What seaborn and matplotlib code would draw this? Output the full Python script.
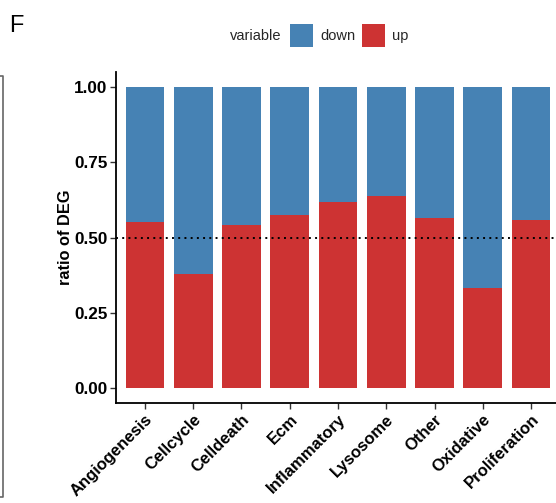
import matplotlib
matplotlib.use("Agg")
import matplotlib.pyplot as plt
import seaborn as sns
import pandas as pd
from matplotlib.patches import Rectangle
from matplotlib.lines import Line2D

categories = ["Angiogenesis", "Cellcycle", "Celldeath", "Ecm", "Inflammatory",
              "Lysosome", "Other", "Oxidative", "Proliferation"]
up = [0.550, 0.379, 0.542, 0.574, 0.618, 0.638, 0.566, 0.333, 0.557]
down = [0.450, 0.621, 0.456, 0.426, 0.382, 0.362, 0.434, 0.665, 0.443]
yticks = [0.00, 0.25, 0.50, 0.75, 1.00]
ytick_labels = ["0.00", "0.25", "0.50", "0.75", "1.00"]
legend_title = "variable"
legend_labels = ["down", "up"]
colors = {"down": "#4682B4", "up": "#CD3333"}

df = pd.DataFrame({"category": categories, "up": up, "down": down})
df["total"] = df["up"] + df["down"]

sns.set_style("white")
plt.rcParams["font.family"] = ["Liberation Sans", "DejaVu Sans"]

W, H = 556, 503
fig = plt.figure(figsize=(W / 100, H / 100), dpi=100)
ax = fig.add_axes([116 / W, (H - 403.4) / H, 444 / W, 331.8 / H])

sns.barplot(data=df, x="category", y="total", color=colors["down"], width=0.8,
            saturation=1, ax=ax, linewidth=0, order=categories)
sns.barplot(data=df, x="category", y="up", color=colors["up"], width=0.8,
            saturation=1, ax=ax, linewidth=0, order=categories)

ax.axhline(0.5, color="black", linestyle=(0, (1, 2.2)), linewidth=1.4, zorder=5)

ax.set_xlim(-0.6, len(categories) - 0.4)
ax.set_ylim(-0.05, 1.05)
ax.set_yticks(yticks)
ax.set_yticklabels(ytick_labels, fontsize=12.3, fontweight="bold", color="black")
ax.set_xticks(range(len(categories)))
ax.set_xticklabels(categories, rotation=45, ha="right", va="top",
                   rotation_mode="anchor", fontsize=12, fontweight="bold", color="black")
ax.set_xlabel("")
ax.set_ylabel("ratio of DEG", fontsize=11.8, fontweight="bold", color="black", labelpad=1)
ax.tick_params(axis="both", length=4, width=1, color="#333333", direction="out",
               bottom=True, left=True, pad=2)
for s in ["top", "right"]:
    ax.spines[s].set_visible(False)
for s in ["left", "bottom"]:
    ax.spines[s].set_color("black")
    ax.spines[s].set_linewidth(1.3)

# Panel letter
fig.text(9 / W, 1 - 32 / H, "F", fontsize=17, color="black", va="baseline", ha="left")

# Legend at top
fig.text(230 / W, 1 - 36 / H, legend_title, fontsize=10.5, va="center", ha="left")
for lx, lab, tx in [(290, "down", 320), (362, "up", 392)]:
    fig.patches.append(Rectangle((lx / W, 1 - 47 / H), 23 / W, 23 / H,
                                 transform=fig.transFigure, facecolor=colors[lab],
                                 edgecolor="none"))
    fig.text(tx / W, 1 - 36 / H, lab, fontsize=10.5, va="center", ha="left")

# Edge of neighbouring panel
fig.lines.append(Line2D([0, 3 / W, 3 / W, 0], [1 - 76 / H, 1 - 76 / H, 1 - 497 / H, 1 - 497 / H],
                        transform=fig.transFigure, color="#666666", linewidth=1.2))

fig.savefig("out.png", dpi=100)
